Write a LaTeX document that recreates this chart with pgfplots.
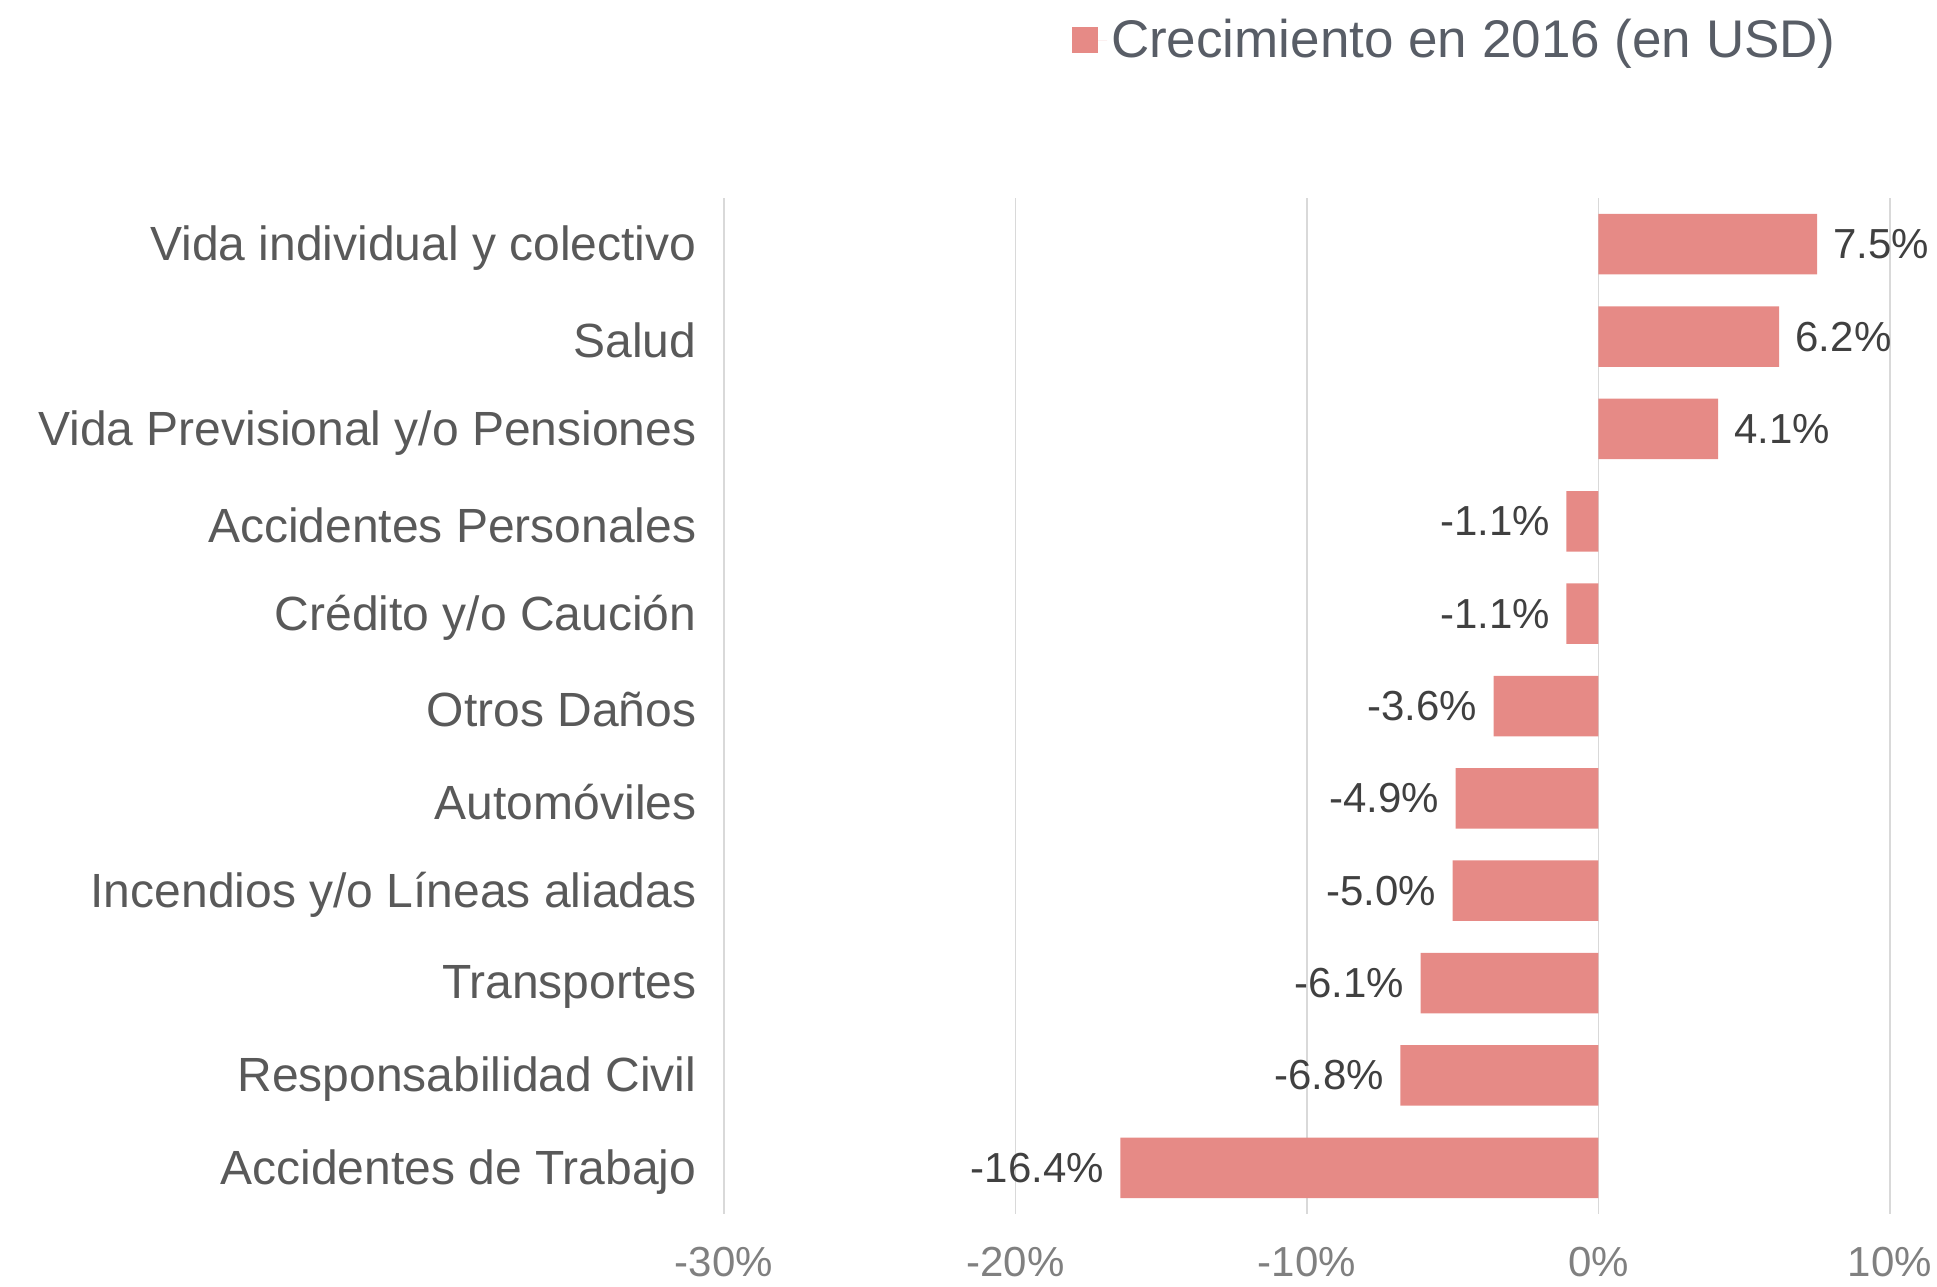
\documentclass[border=0pt]{standalone}
\usepackage{pgfplots}
\pgfplotsset{compat=1.18}
\usepackage{fontspec}
\setmainfont{Liberation Sans}
\definecolor{barcol}{HTML}{E68A86}
\definecolor{tickgray}{HTML}{808080}
\definecolor{catgray}{HTML}{595959}
\definecolor{lblgray}{HTML}{404040}
\definecolor{leggray}{HTML}{585D66}
\definecolor{gridgray}{HTML}{D9D9D9}
\begin{document}
\begin{tikzpicture}
\useasboundingbox (-362pt,-36pt) rectangle (606.5pt,607pt);
\begin{axis}[
  scale only axis, width=583pt, height=508pt,
  xbar, bar width=30.25pt, bar shift=0pt,
  xmin=-30, xmax=10, ymin=-0.5, ymax=10.5, y dir=reverse,
  xtick={-30,-20,-10,0,10},
  xticklabels={-30\%,-20\%,-10\%,0\%,10\%},
  ytick={0,1,2,3,4,5,6,7,8,9,10},
  yticklabels={Vida individual y colectivo,Salud,Vida Previsional y/o Pensiones,Accidentes Personales,Crédito y/o Caución,Otros Daños,Automóviles,Incendios y/o Líneas aliadas,Transportes,Responsabilidad Civil,Accidentes de Trabajo},
  xmajorgrids, grid style={draw=gridgray, line width=0.7pt},
  axis line style={draw=none}, tick style={draw=none},
  xticklabel style={font=\fontsize{21}{25}\selectfont, text=tickgray, yshift=-13pt},
  yticklabel style={font=\fontsize{24}{28}\selectfont, text=catgray, xshift=-6pt, yshift=-2pt},
  nodes near coords={\pgfplotspointmeta\%},
  point meta=explicit symbolic,
  legend style={draw=none, fill=none, at={(axis description cs:0.2985,1.1555)}, anchor=west,
    font=\fontsize{26.5}{30}\selectfont, text=leggray, inner sep=0pt},
  legend image code/.code={\fill[barcol] (0pt,-6.5pt) rectangle (13pt,6.5pt); \path (0pt,0pt) -- (17.3pt,0pt);},
]
\addplot[fill=barcol, draw=none,
  nodes near coords style={font=\fontsize{21}{25}\selectfont, text=lblgray, inner xsep=8pt, anchor=west}]
  table[x=v, y=i, meta=lab] {
i v lab
0 7.5 7.5
1 6.2 6.2
2 4.1 4.1
};
\addlegendentry{Crecimiento en 2016 (en USD)}
\addplot[fill=barcol, draw=none, forget plot,
  nodes near coords style={font=\fontsize{21}{25}\selectfont, text=lblgray, inner xsep=8pt, anchor=east}]
  table[x=v, y=i, meta=lab] {
i v lab
3 -1.1 -1.1
4 -1.1 -1.1
5 -3.6 -3.6
6 -4.9 -4.9
7 -5.0 -5.0
8 -6.1 -6.1
9 -6.8 -6.8
10 -16.4 -16.4
};
\end{axis}
\end{tikzpicture}
\end{document}
